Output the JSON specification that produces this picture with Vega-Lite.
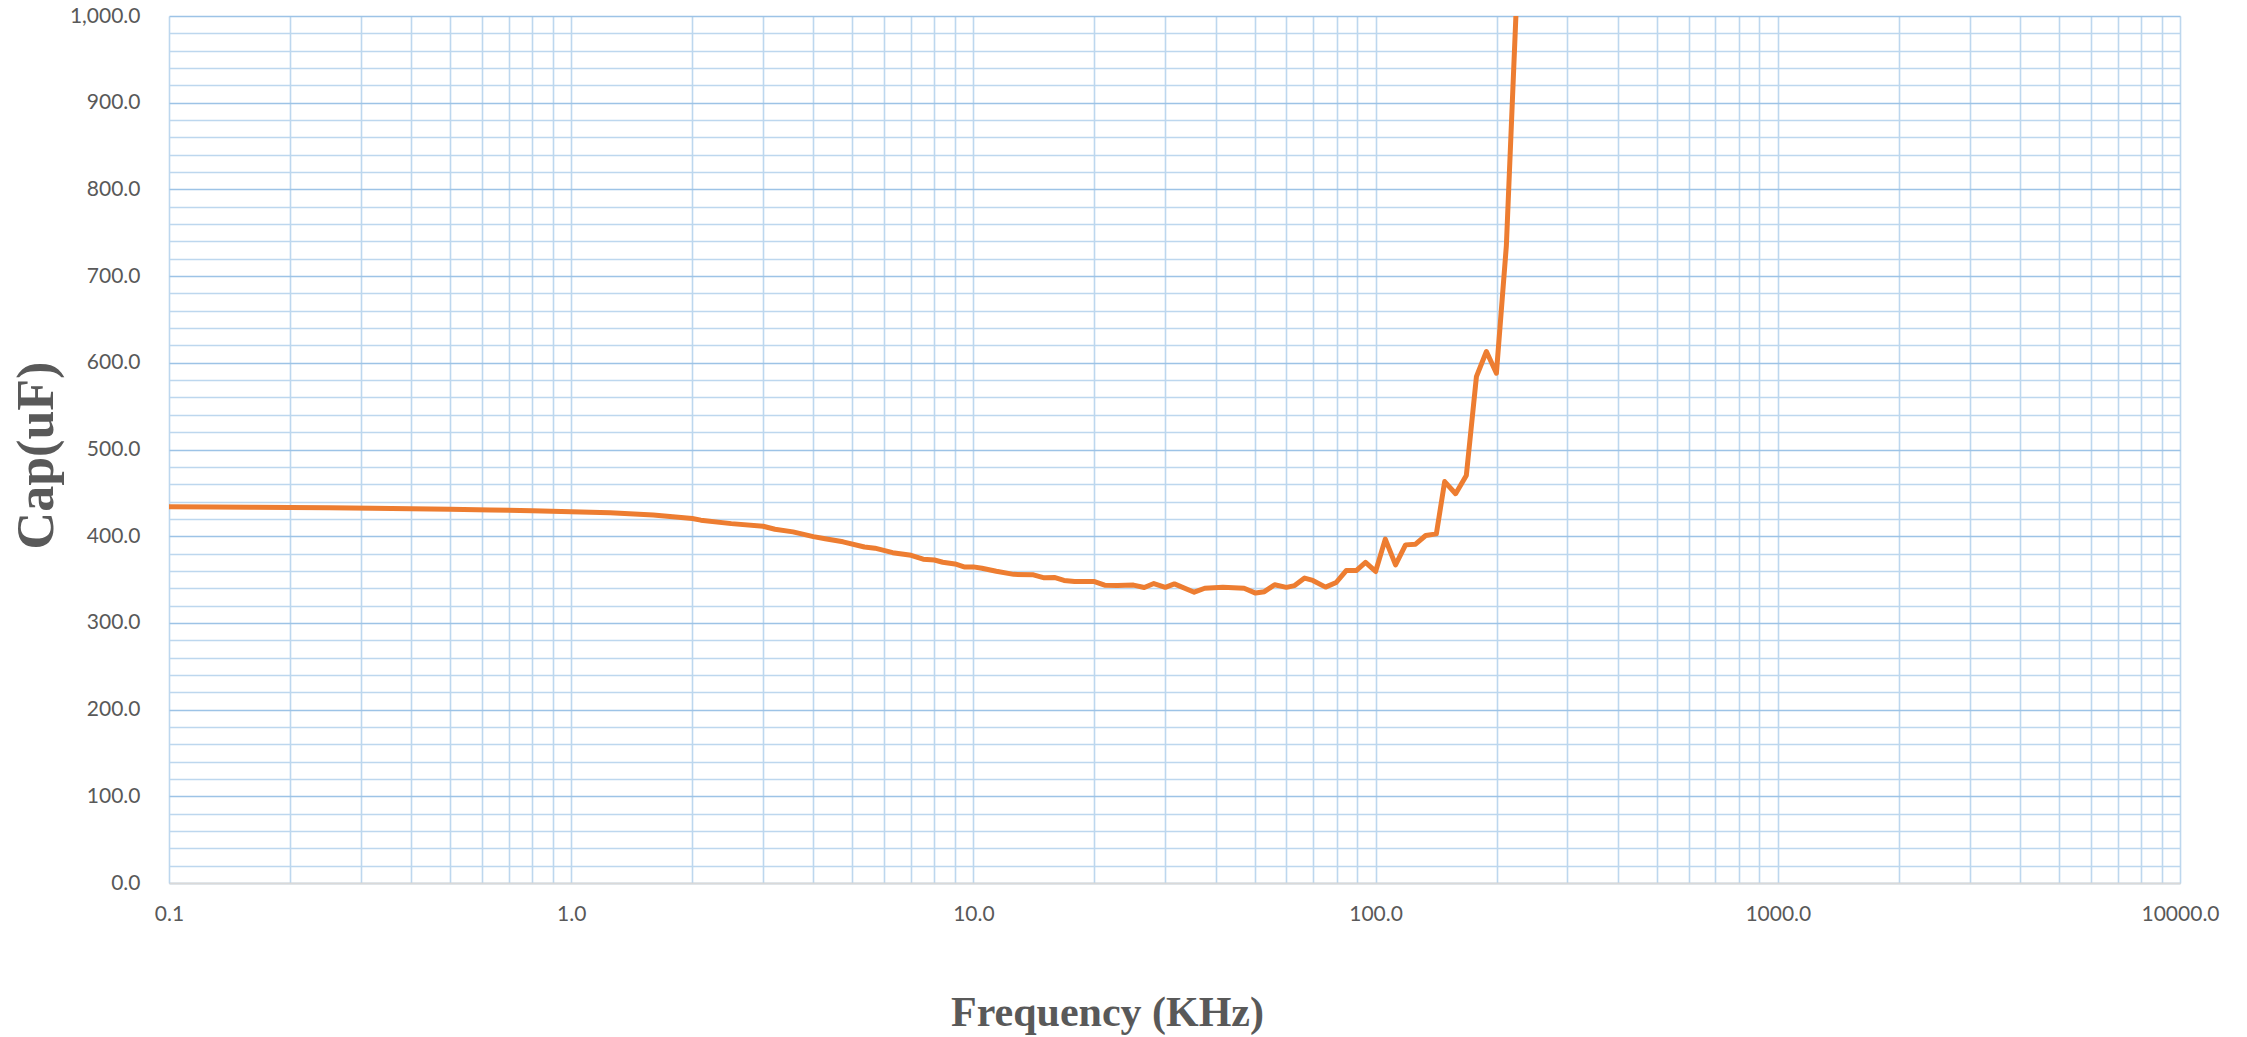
{
  "$schema": "https://vega.github.io/schema/vega-lite/v6.json",
  "description": "Capacitance vs frequency",
  "width": 2011,
  "height": 867,
  "autosize": "none",
  "padding": {"left": 169, "top": 16, "right": 67, "bottom": 154},
  "background": "white",
  "config": {"view": {"stroke": null}},
  "data": {
    "values": [
      {"freq": 0.1, "cap": 434},
      {"freq": 0.13, "cap": 433.7},
      {"freq": 0.16, "cap": 433.4},
      {"freq": 0.2, "cap": 433.1},
      {"freq": 0.25, "cap": 432.7},
      {"freq": 0.32, "cap": 432.2},
      {"freq": 0.4, "cap": 431.7},
      {"freq": 0.5, "cap": 431},
      {"freq": 0.63, "cap": 430.3},
      {"freq": 0.8, "cap": 429.4},
      {"freq": 1.0, "cap": 428.3},
      {"freq": 1.25, "cap": 427},
      {"freq": 1.6, "cap": 424.5},
      {"freq": 2.0, "cap": 420.5},
      {"freq": 2.1, "cap": 418.5},
      {"freq": 2.5, "cap": 414.5},
      {"freq": 3.0, "cap": 411.5},
      {"freq": 3.21, "cap": 408},
      {"freq": 3.56, "cap": 405},
      {"freq": 4.0, "cap": 399.5},
      {"freq": 4.28, "cap": 397},
      {"freq": 4.74, "cap": 393.5},
      {"freq": 5.36, "cap": 387.5},
      {"freq": 5.69, "cap": 386.2},
      {"freq": 6.3, "cap": 381},
      {"freq": 7.0, "cap": 378},
      {"freq": 7.5, "cap": 373.5},
      {"freq": 8.0, "cap": 372.5},
      {"freq": 8.39, "cap": 370},
      {"freq": 9.0, "cap": 368},
      {"freq": 9.48, "cap": 364.6},
      {"freq": 10, "cap": 364.6},
      {"freq": 10.5, "cap": 363},
      {"freq": 11.4, "cap": 359.6},
      {"freq": 12.6, "cap": 356},
      {"freq": 14.1, "cap": 355.4},
      {"freq": 15.0, "cap": 352},
      {"freq": 15.96, "cap": 352.3},
      {"freq": 16.8, "cap": 349},
      {"freq": 17.85, "cap": 347.7},
      {"freq": 20, "cap": 347.7},
      {"freq": 21.2, "cap": 343.5},
      {"freq": 22.8, "cap": 343},
      {"freq": 25.0, "cap": 343.6},
      {"freq": 26.6, "cap": 340.8},
      {"freq": 28.1, "cap": 345.4},
      {"freq": 30, "cap": 341},
      {"freq": 31.6, "cap": 345},
      {"freq": 35.4, "cap": 335.4},
      {"freq": 37.6, "cap": 340},
      {"freq": 41.7, "cap": 341.2},
      {"freq": 47.1, "cap": 340},
      {"freq": 50.3, "cap": 334.4},
      {"freq": 52.9, "cap": 336},
      {"freq": 56.1, "cap": 344},
      {"freq": 60, "cap": 341},
      {"freq": 62.9, "cap": 343},
      {"freq": 66.6, "cap": 351.7},
      {"freq": 69.8, "cap": 349},
      {"freq": 75.1, "cap": 341.3},
      {"freq": 79.8, "cap": 346.6},
      {"freq": 84.5, "cap": 360.4},
      {"freq": 89.5, "cap": 360.4},
      {"freq": 94.4, "cap": 369.7},
      {"freq": 100, "cap": 359.3},
      {"freq": 105.7, "cap": 396.6},
      {"freq": 112.1, "cap": 367},
      {"freq": 118.7, "cap": 390},
      {"freq": 125.7, "cap": 390.8},
      {"freq": 133.2, "cap": 400.8},
      {"freq": 141.6, "cap": 402.7},
      {"freq": 148.5, "cap": 463},
      {"freq": 158.1, "cap": 449},
      {"freq": 168.1, "cap": 470},
      {"freq": 178.1, "cap": 584},
      {"freq": 188.6, "cap": 613},
      {"freq": 199.7, "cap": 588},
      {"freq": 211.4, "cap": 735},
      {"freq": 223.5, "cap": 1005}
    ]
  },
  "mark": {
    "type": "line",
    "color": "#ED7D31",
    "strokeWidth": 5,
    "strokeJoin": "round",
    "clip": true
  },
  "encoding": {
    "x": {
      "field": "freq",
      "type": "quantitative",
      "scale": {"type": "log", "domain": [0.1, 10000], "nice": false},
      "axis": {
        "values": [0.1, 0.2, 0.3, 0.4, 0.5, 0.6, 0.7, 0.8, 0.9,
                   1, 2, 3, 4, 5, 6, 7, 8, 9,
                   10, 20, 30, 40, 50, 60, 70, 80, 90,
                   100, 200, 300, 400, 500, 600, 700, 800, 900,
                   1000, 2000, 3000, 4000, 5000, 6000, 7000, 8000, 9000, 10000],
        "labelExpr": "indexof([0.1, 1, 10, 100, 1000, 10000], datum.value) >= 0 ? format(datum.value, '.1f') : ''",
        "labelOverlap": false,
        "labelFont": "Lato",
        "labelFontSize": 21,
        "labelColor": "#595959",
        "labelPadding": 20,
        "labelFlush": false,
        "ticks": false,
        "grid": true,
        "gridColor": "#BDD7EE",
        "gridWidth": 1.6,
        "domain": true,
        "domainColor": "#D9D9D9",
        "domainWidth": 2,
        "title": "Frequency (KHz)",
        "titleFont": "Liberation Serif",
        "titleFontWeight": "bold",
        "titleFontSize": 42,
        "titleColor": "#595959",
        "titleX": 938,
        "titleY": 142,
        "titleAlign": "center",
        "titleBaseline": "alphabetic"
      }
    },
    "y": {
      "field": "cap",
      "type": "quantitative",
      "scale": {"domain": [0, 1000], "nice": false, "zero": true},
      "axis": {
        "values": [0, 20, 40, 60, 80, 100, 120, 140, 160, 180, 200, 220, 240, 260, 280,
                   300, 320, 340, 360, 380, 400, 420, 440, 460, 480, 500, 520, 540, 560, 580,
                   600, 620, 640, 660, 680, 700, 720, 740, 760, 780, 800, 820, 840, 860, 880,
                   900, 920, 940, 960, 980, 1000],
        "labelExpr": "datum.value % 100 === 0 ? format(datum.value, ',.1f') : ''",
        "labelOverlap": false,
        "labelFont": "Lato",
        "labelFontSize": 21,
        "labelColor": "#595959",
        "labelPadding": 29,
        "labelFlush": false,
        "ticks": false,
        "domain": false,
        "grid": true,
        "gridColor": {"condition": {"test": "datum.value % 100 === 0", "value": "#9DC3E6"}, "value": "#BDD7EE"},
        "gridWidth": 1.6,
        "title": "Cap(uF)",
        "titleFont": "Liberation Serif",
        "titleFontWeight": "bold",
        "titleFontSize": 52,
        "titleColor": "#595959",
        "titleAngle": -90,
        "titleX": -117,
        "titleY": 439,
        "titleAlign": "center",
        "titleBaseline": "alphabetic"
      }
    }
  }
}
